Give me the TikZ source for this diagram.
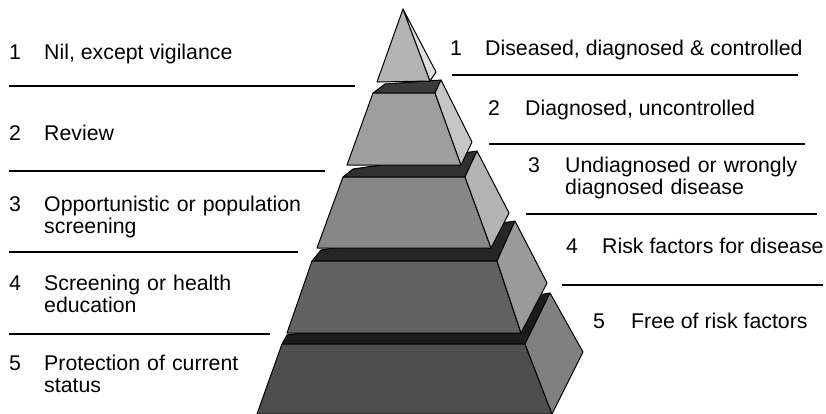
\documentclass[tikz,border=0pt]{standalone}
\usepackage{fontspec}
\setmainfont{Liberation Sans}
\definecolor{tAf}{HTML}{B4B4B4}\definecolor{tAs}{HTML}{DEDEDE}
\definecolor{tBf}{HTML}{9E9E9E}\definecolor{tBs}{HTML}{C6C6C6}\definecolor{tBt}{HTML}{3A3A3A}
\definecolor{tCf}{HTML}{878787}\definecolor{tCs}{HTML}{B3B3B3}\definecolor{tCt}{HTML}{303030}
\definecolor{tDf}{HTML}{626262}\definecolor{tDs}{HTML}{9A9A9A}\definecolor{tDt}{HTML}{262626}
\definecolor{tEf}{HTML}{4E4E4E}\definecolor{tEs}{HTML}{808080}\definecolor{tEt}{HTML}{1C1C1C}
\tikzset{
  face/.style={draw=black, line width=1pt, line join=round},
  lbl/.style={anchor=base west, inner sep=0pt, font=\fontsize{21.3}{22.5}\selectfont},
  mlbl/.style={lbl, text width=280pt, align=left},
  rule/.style={line width=1.5pt}
}
\begin{document}
\begin{tikzpicture}[x=1pt,y=-1pt]
\useasboundingbox (0,0) rectangle (826,413);
% tier 5
\fill[tEt, face] (282,344) -- (287,335) -- (550,293) -- (525,344) -- cycle;
\fill[tEf, face] (282,344) -- (525,344) -- (552,414) -- (257,414) -- cycle;
\fill[tEs, face] (525,344) -- (550,293) -- (583,352) -- (552,414) -- cycle;
% tier 4
\fill[tDt, face] (312,261) -- (321,250) -- (515,221) -- (497,261) -- cycle;
\fill[tDf, face] (312,261) -- (497,261) -- (521,333) -- (287,333) -- cycle;
\fill[tDs, face] (497,261) -- (515,221) -- (547,283) -- (521,333) -- cycle;
% tier 3
\fill[tCt, face] (343,177) -- (353,169) -- (477,151) -- (465,177) -- cycle;
\fill[tCf, face] (343,177) -- (465,177) -- (491,248) -- (317,248) -- cycle;
\fill[tCs, face] (465,177) -- (477,151) -- (509,213) -- (491,248) -- cycle;
% tier 2
\fill[tBt, face] (373,93) -- (385,84) -- (441,80) -- (435,93) -- cycle;
\fill[tBf, face] (373,93) -- (435,93) -- (461,165) -- (347,165) -- cycle;
\fill[tBs, face] (435,93) -- (441,80) -- (472,142) -- (461,165) -- cycle;
% tier 1
\fill[tAf, face] (403,9) -- (377,82) -- (430,81) -- cycle;
\fill[tAs, face] (403,9) -- (436,72) -- (430,81) -- cycle;

% left labels
\node[lbl] (ln1) at (9,59) {1};
\node[lbl] (lt1) at (44,59) {Nil, except vigilance};
\node[lbl] (ln2) at (9,140) {2};
\node[lbl] (lt2) at (44,140) {Review};
\node[lbl] (ln3) at (9,211) {3};
\node[mlbl] (lt3) at (44,211) {Opportunistic or population\\screening};
\node[lbl] (ln4) at (9,290) {4};
\node[mlbl] (lt4) at (44,290) {Screening or health\\education};
\node[lbl] (ln5) at (9,370) {5};
\node[mlbl] (lt5) at (44,370) {Protection of current\\status};

\coordinate (la1) at (9,86);    \coordinate (lb1) at (355,86);
\coordinate (la2) at (9,171);   \coordinate (lb2) at (325,171);
\coordinate (la3) at (9,252);   \coordinate (lb3) at (298,252);
\coordinate (la4) at (9,334);   \coordinate (lb4) at (270,334);
\draw[rule] (la1) -- (lb1);
\draw[rule] (la2) -- (lb2);
\draw[rule] (la3) -- (lb3);
\draw[rule] (la4) -- (lb4);

% right labels
\node[lbl] (rn1) at (450,55) {1};
\node[lbl] (rt1) at (485,55) {Diseased, diagnosed \& controlled};
\node[lbl] (rn2) at (488,115) {2};
\node[lbl] (rt2) at (525,115) {Diagnosed, uncontrolled};
\node[lbl] (rn3) at (528,172) {3};
\node[mlbl] (rt3) at (565,172) {Undiagnosed or wrongly\\diagnosed disease};
\node[lbl] (rn4) at (566,253) {4};
\node[lbl] (rt4) at (602,253) {Risk factors for disease};
\node[lbl] (rn5) at (593,328) {5};
\node[lbl] (rt5) at (631,328) {Free of risk factors};

\coordinate (ra1) at (452,75);  \coordinate (rb1) at (798,75);
\coordinate (ra2) at (489,144); \coordinate (rb2) at (805,144);
\coordinate (ra3) at (526,214); \coordinate (rb3) at (817,214);
\coordinate (ra4) at (562,285); \coordinate (rb4) at (823,285);
\draw[rule] (ra1) -- (rb1);
\draw[rule] (ra2) -- (rb2);
\draw[rule] (ra3) -- (rb3);
\draw[rule] (ra4) -- (rb4);
\end{tikzpicture}
\end{document}
